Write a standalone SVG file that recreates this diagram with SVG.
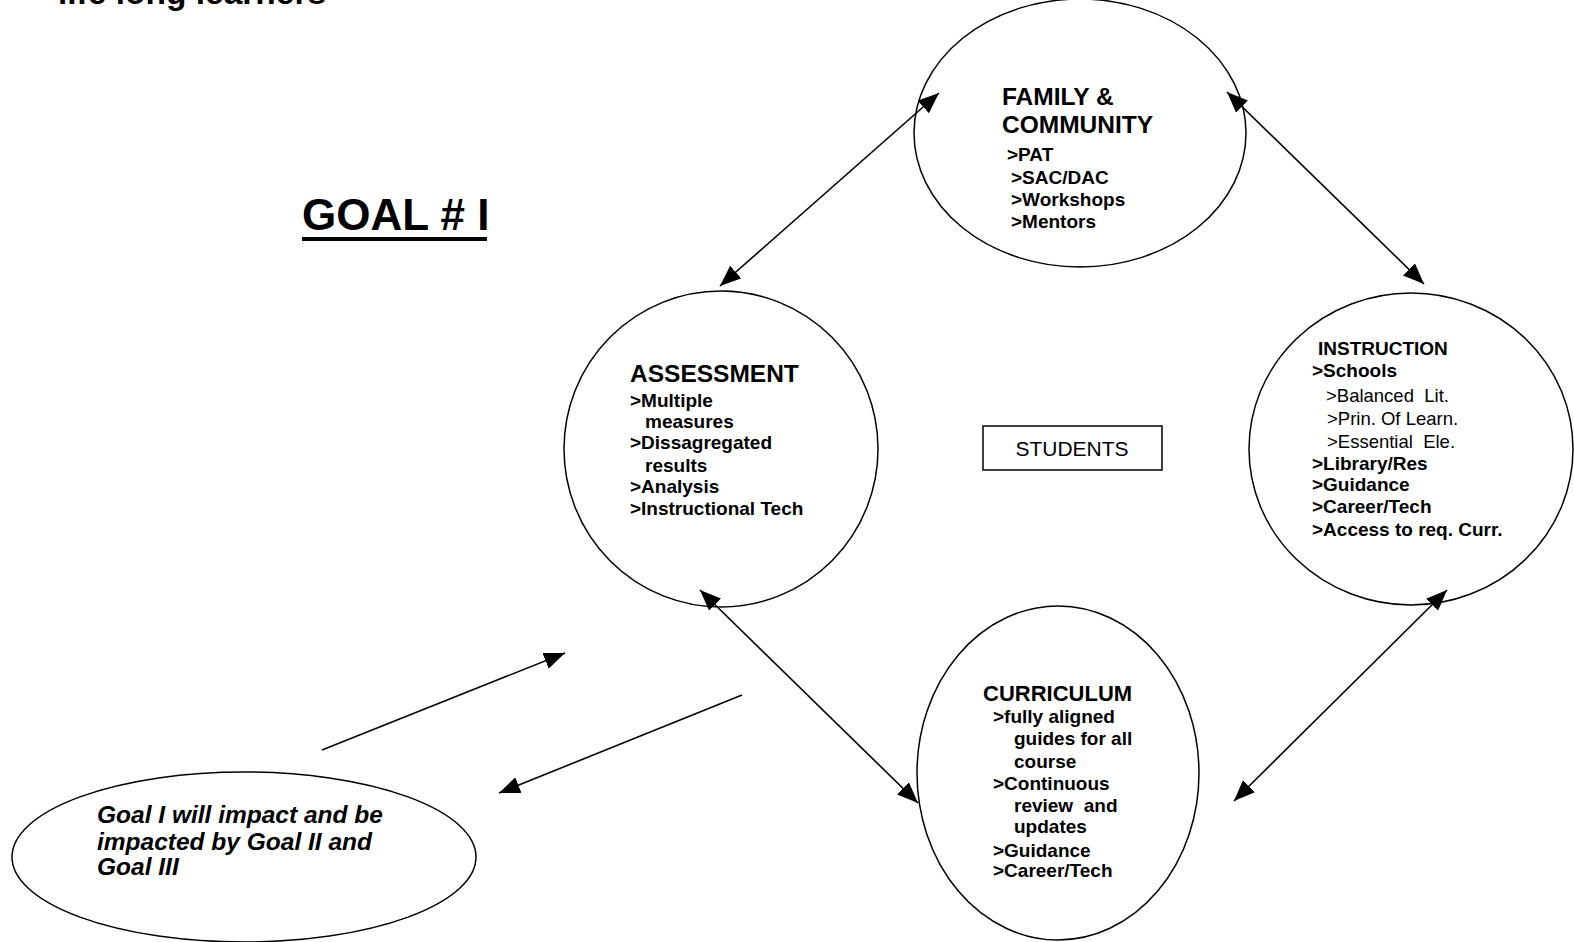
<svg xmlns="http://www.w3.org/2000/svg" width="1574" height="942" viewBox="0 0 1574 942">
<defs>
<style>
text{font-family:"Liberation Sans",Arial,sans-serif;fill:#000;white-space:pre}
.b{font-weight:bold}
.h{font-weight:bold;font-size:24.5px}
.s{font-weight:bold;font-size:19px}
.n{font-size:18.5px}
.i{font-weight:bold;font-style:italic;font-size:24.5px}
.node{fill:#fff;stroke:#000;stroke-width:1.5}
.con{stroke:#000;stroke-width:1.6;fill:none}
</style>
<marker id="ah" markerUnits="userSpaceOnUse" markerWidth="21" markerHeight="17" refX="21" refY="8.5" orient="auto-start-reverse" viewBox="0 0 21 17">
<path d="M0,0 L21,8.5 L0,17 z" fill="#000"/>
</marker>
</defs>
<rect width="1574" height="942" fill="#fff"/>

<g id="title">
<text class="b" x="58" y="4" font-size="33.5">life long learners</text>
</g>
<g id="goal">
<text class="b" x="302" y="230" font-size="44">GOAL # I</text>
<rect x="302" y="237" width="185" height="4" fill="#000"/>
</g>

<g id="family">
<ellipse class="node" cx="1080" cy="133" rx="166" ry="134"/>
<text class="h" x="1002" y="105">FAMILY &amp;</text>
<text class="h" x="1002" y="133">COMMUNITY</text>
<text class="s" x="1007" y="161">&gt;PAT</text>
<text class="s" x="1011" y="184">&gt;SAC/DAC</text>
<text class="s" x="1011" y="206">&gt;Workshops</text>
<text class="s" x="1011" y="228">&gt;Mentors</text>
</g>

<g id="assessment">
<ellipse class="node" cx="721" cy="449" rx="157" ry="158"/>
<text class="h" x="630" y="382">ASSESSMENT</text>
<text class="s" x="630" y="407">&gt;Multiple</text>
<text class="s" x="645" y="428">measures</text>
<text class="s" x="630" y="449">&gt;Dissagregated</text>
<text class="s" x="645" y="472">results</text>
<text class="s" x="630" y="493">&gt;Analysis</text>
<text class="s" x="630" y="515">&gt;Instructional Tech</text>
</g>

<g id="instruction">
<ellipse class="node" cx="1411" cy="449" rx="162" ry="156"/>
<text class="s" x="1318" y="355">INSTRUCTION</text>
<text class="s" x="1312" y="377">&gt;Schools</text>
<text class="n" x="1326" y="402">&gt;Balanced  Lit.</text>
<text class="n" x="1327" y="425">&gt;Prin. Of Learn.</text>
<text class="n" x="1327" y="448">&gt;Essential  Ele.</text>
<text class="s" x="1312" y="470">&gt;Library/Res</text>
<text class="s" x="1312" y="491">&gt;Guidance</text>
<text class="s" x="1312" y="513">&gt;Career/Tech</text>
<text class="s" x="1312" y="536">&gt;Access to req. Curr.</text>
</g>

<g id="curriculum">
<ellipse class="node" cx="1058" cy="773" rx="141" ry="167"/>
<text class="b" x="983" y="701" font-size="22">CURRICULUM</text>
<text class="s" x="993" y="723">&gt;fully aligned</text>
<text class="s" x="1014" y="745">guides for all</text>
<text class="s" x="1014" y="768">course</text>
<text class="s" x="993" y="790">&gt;Continuous</text>
<text class="s" x="1014" y="812">review  and</text>
<text class="s" x="1014" y="833">updates</text>
<text class="s" x="993" y="857">&gt;Guidance</text>
<text class="s" x="993" y="877">&gt;Career/Tech</text>
</g>

<g id="students">
<rect class="node" x="983" y="426" width="179" height="44"/>
<text x="1072" y="456" font-size="21" text-anchor="middle">STUDENTS</text>
</g>

<g id="goal-note">
<ellipse class="node" cx="244" cy="857" rx="232" ry="85"/>
<text class="i" x="97" y="823">Goal I will impact and be</text>
<text class="i" x="97" y="850">impacted by Goal II and</text>
<text class="i" x="97" y="875">Goal III</text>
</g>

<g id="connectors">
<line class="con" x1="720" y1="286" x2="939" y2="93" marker-start="url(#ah)" marker-end="url(#ah)"/>
<line class="con" x1="1227" y1="92" x2="1424" y2="284" marker-start="url(#ah)" marker-end="url(#ah)"/>
<line class="con" x1="700" y1="590" x2="918" y2="803" marker-start="url(#ah)" marker-end="url(#ah)"/>
<line class="con" x1="1447" y1="590" x2="1234" y2="801" marker-start="url(#ah)" marker-end="url(#ah)"/>
<line class="con" x1="322" y1="750" x2="565" y2="653" marker-end="url(#ah)"/>
<line class="con" x1="742" y1="695" x2="499" y2="793" marker-end="url(#ah)"/>
</g>
</svg>
